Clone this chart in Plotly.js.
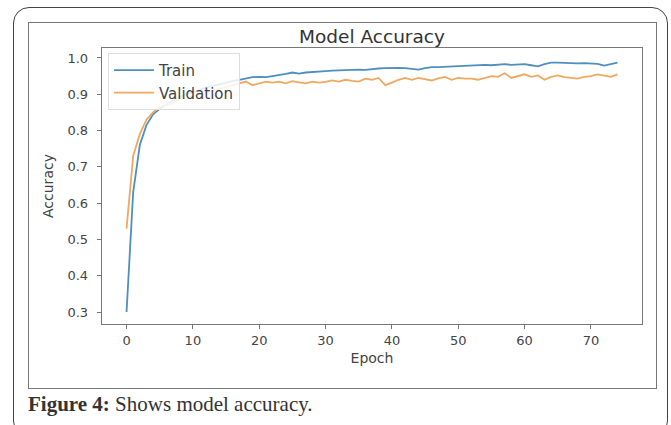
<!DOCTYPE html>
<html>
<head>
<meta charset="utf-8">
<script src="https://cdn.plot.ly/plotly-3.0.1.min.js"></script>
<style>
  html, body { margin: 0; padding: 0; background: #ffffff; }
  #wrap { position: relative; width: 671px; height: 425px; overflow: hidden; background: #fff; }
  #outer { position: absolute; left: 13px; top: 7px; width: 655px; height: 430px;
           border: 1.5px solid #444; border-radius: 16px; box-sizing: border-box; }
  #inner { position: absolute; left: 28px; top: 22px; width: 629px; height: 367px;
           border: 1.5px solid #777; box-sizing: border-box; }
  #caption { position: absolute; left: 28px; top: 392px; font-family: "Liberation Serif", "DejaVu Serif", serif;
             font-size: 21px; color: #333; white-space: nowrap; }
  #plot { position: absolute; left: 0; top: 0; width: 671px; height: 425px; }
</style>
</head>
<body>
<div id="wrap">
  <div id="outer"></div>
  <div id="inner"></div>
  <div id="caption"><b>Figure 4:</b> Shows model accuracy.</div>
  <div id="plot"></div>
</div>
<script>
const epochs = Array.from({length: 75}, (_, i) => i);

const trainAcc = [
  0.300, 0.630, 0.760, 0.815, 0.845, 0.860, 0.872, 0.882, 0.893, 0.900,
  0.905, 0.912, 0.918, 0.923, 0.928, 0.932, 0.936, 0.940, 0.944, 0.947,
  0.948, 0.947, 0.950, 0.952, 0.956, 0.960, 0.957, 0.960, 0.962, 0.963,
  0.964, 0.965, 0.966, 0.966, 0.967, 0.968, 0.967, 0.970, 0.971, 0.972,
  0.973, 0.973, 0.972, 0.969, 0.968, 0.972, 0.975, 0.975, 0.976, 0.977,
  0.977, 0.978, 0.979, 0.979, 0.981, 0.980, 0.982, 0.983, 0.981, 0.983,
  0.983, 0.980, 0.977, 0.983, 0.987, 0.987, 0.986, 0.986, 0.985, 0.986,
  0.985, 0.984, 0.979, 0.983, 0.987
];

const valAcc = [
  0.530, 0.730, 0.790, 0.830, 0.850, 0.865, 0.870, 0.875, 0.890, 0.885,
  0.898, 0.890, 0.905, 0.910, 0.915, 0.920, 0.925, 0.930, 0.935, 0.925,
  0.930, 0.935, 0.932, 0.935, 0.930, 0.936, 0.933, 0.930, 0.935, 0.932,
  0.934, 0.938, 0.935, 0.940, 0.937, 0.935, 0.943, 0.940, 0.945, 0.925,
  0.932, 0.940, 0.945, 0.940, 0.945, 0.942, 0.938, 0.944, 0.948, 0.940,
  0.945, 0.943, 0.943, 0.940, 0.945, 0.950, 0.948, 0.958, 0.945, 0.950,
  0.955, 0.948, 0.952, 0.940, 0.948, 0.952, 0.947, 0.945, 0.943, 0.948,
  0.950, 0.955, 0.952, 0.948, 0.955
];

const seriesNames = ["Train", "Validation"];
const xTicks = [0, 10, 20, 30, 40, 50, 60, 70];
const yTicks = [0.3, 0.4, 0.5, 0.6, 0.7, 0.8, 0.9, 1.0];

const font = "DejaVu Sans, sans-serif";

const traces = [
  { x: epochs, y: trainAcc, name: seriesNames[0], type: "scatter", mode: "lines",
    line: { color: "#4f8fbd", width: 1.8 } },
  { x: epochs, y: valAcc, name: seriesNames[1], type: "scatter", mode: "lines",
    line: { color: "#f0a860", width: 1.8 } }
];

const axisCommon = {
  showline: true, mirror: true, linecolor: "#777", linewidth: 1.3,
  ticks: "outside", ticklen: 4, tickcolor: "#777", tickwidth: 1,
  showgrid: false, zeroline: false,
  tickfont: { family: font, size: 13, color: "#444" }
};

const layout = {
  width: 671, height: 425,
  paper_bgcolor: "rgba(0,0,0,0)", plot_bgcolor: "#fff",
  margin: { l: 102, r: 29, t: 48, b: 101 },
  title: { text: "Model Accuracy", font: { family: font, size: 18.5, color: "#333" },
           x: 0.5, xref: "paper", y: 1 - 37/425, yref: "container", yanchor: "middle" },
  xaxis: Object.assign({}, axisCommon, {
    range: [-3.7, 77.7], tickvals: xTicks, ticktext: xTicks.map(String),
    title: { text: "Epoch", font: { family: font, size: 14, color: "#444" }, standoff: 6 }
  }),
  yaxis: Object.assign({}, axisCommon, {
    range: [0.267, 1.0275], tickvals: yTicks, ticktext: yTicks.map(v => v.toFixed(1)),
    ticklabelstandoff: 6,
    title: { text: "Accuracy", font: { family: font, size: 14, color: "#444" }, standoff: 10 }
  }),
  showlegend: true,
  legend: {
    x: 0.011, y: 0.982, xanchor: "left", yanchor: "top",
    bgcolor: "rgba(255,255,255,0.85)", bordercolor: "#ddd", borderwidth: 1,
    font: { family: font, size: 15, color: "#444" },
    itemwidth: 40, tracegroupgap: 0
  }
};

Plotly.newPlot("plot", traces, layout, { staticPlot: true, displayModeBar: false });
</script>
</body>
</html>
